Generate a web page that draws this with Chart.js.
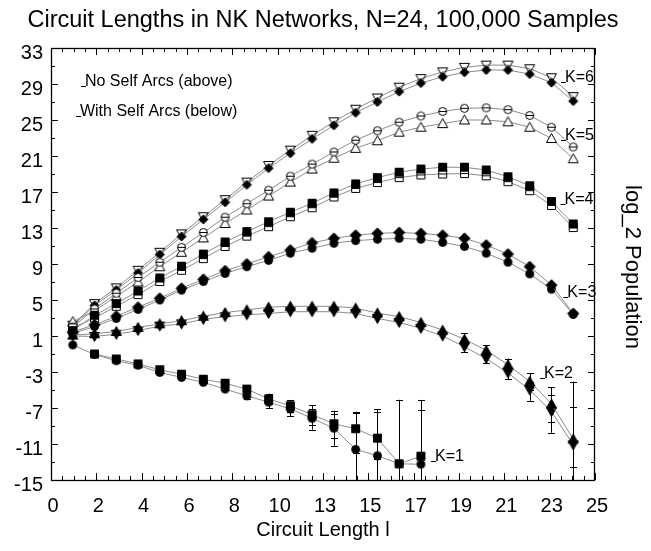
<!DOCTYPE html>
<html>
<head>
<meta charset="utf-8">
<script src="https://cdn.jsdelivr.net/npm/chart.js@4.4.1/dist/chart.umd.min.js"></script>
<style>
  html, body { margin: 0; padding: 0; background: #fff; }
  canvas { display: block; }
</style>
</head>
<body>
<canvas id="chart" width="651" height="551"></canvas>
<script>
// circuit length l
const lengths = [1, 2, 3, 4, 5, 6, 7, 8, 9, 10, 11, 12, 13, 14, 15, 16, 17, 18, 19, 20, 21, 22, 23, 24];

// log_2 population, "no self arcs" runs above, "with self arcs" below
const k6NoSelf   = [2.2, 4.6, 6.35, 8.3, 10.3, 12.35, 14.25, 16.15, 18.1, 19.95, 21.65, 23.3, 24.8, 26.2, 27.45, 28.65, 29.6, 30.35, 30.85, 31.1, 31.1, 30.7, 29.7, 27.6];
const k6WithSelf = [2.1, 4.4, 6.1, 8.0, 10.05, 12.05, 13.95, 15.85, 17.8, 19.65, 21.3, 22.9, 24.4, 25.8, 27.0, 28.15, 29.1, 29.8, 30.3, 30.55, 30.55, 30.1, 29.15, 27.1];
const k5NoSelf   = [2.0, 4.0, 5.75, 7.5, 9.2, 10.85, 12.5, 14.2, 15.7, 17.2, 18.75, 20.1, 21.45, 22.75, 23.8, 24.75, 25.45, 25.95, 26.3, 26.35, 26.15, 25.5, 24.2, 22.0];
const k5WithSelf = [2.6, 3.8, 5.4, 7.0, 8.7, 10.3, 11.9, 13.5, 15.0, 16.55, 18.1, 19.55, 20.75, 21.85, 22.7, 23.65, 24.2, 24.6, 25.0, 25.0, 24.8, 24.2, 22.95, 20.7];
const k4NoSelf   = [1.6, 3.3, 4.6, 6.0, 7.45, 8.75, 10.1, 11.45, 12.6, 13.7, 14.75, 15.75, 16.9, 17.9, 18.6, 19.2, 19.55, 19.75, 19.75, 19.45, 18.7, 17.7, 15.95, 13.45];
const k4WithSelf = [1.9, 3.0, 4.3, 5.6, 7.05, 8.3, 9.6, 10.95, 12.1, 13.15, 14.25, 15.25, 16.45, 17.4, 18.05, 18.6, 18.9, 19.0, 19.05, 18.8, 18.15, 17.15, 15.5, 13.05];
const k3NoSelf   = [1.45, 2.25, 3.2, 4.2, 5.2, 6.3, 7.3, 8.25, 9.0, 9.8, 10.55, 11.35, 11.85, 12.2, 12.4, 12.5, 12.4, 12.2, 11.85, 11.1, 10.1, 8.7, 6.65, 3.5];
const k3WithSelf = [1.3, 2.05, 2.95, 3.95, 5.0, 6.1, 7.05, 7.95, 8.7, 9.4, 10.2, 10.75, 11.3, 11.6, 11.75, 11.85, 11.75, 11.4, 10.95, 10.2, 9.2, 7.9, 6.2, 3.4];
const k2NoSelf   = [1.1, 1.25, 1.5, 1.95, 2.35, 2.7, 3.2, 3.6, 3.9, 4.2, 4.3, 4.3, 4.3, 4.1, 3.55, 3.15, 2.5, 1.65, 0.65, -0.6, -2.2, -4.05, -6.55, -10.45];
const k2WithSelf = [1.0, 0.95, 1.2, 1.6, 2.1, 2.35, 2.85, 3.15, 3.35, 3.5, 3.7, 3.7, 3.7, 3.5, 2.95, 2.5, 1.85, 1.0, -0.2, -1.5, -3.1, -5.0, -7.4, -11.1];
const k1NoSelf   = [null, -1.0, -1.55, -2.1, -2.75, -3.25, -3.8, -4.25, -4.9, -6.0, -6.75, -7.75, -8.75, -9.3, -10.35, -13.2, -12.35, null, null, null, null, null, null, null];
const k1WithSelf = [0.0, -1.05, -1.75, -2.25, -3.05, -3.6, -4.15, -4.9, -5.65, -6.35, -7.1, -8.15, -9.25, -11.6, -12.3, -13.2, -13.25, null, null, null, null, null, null, null];

// error bars: [l, upper, lower]; -Infinity = runs off the bottom
const k1NoSelfBars   = [[9, -4.6, -5.3], [10, -5.4, -6.6], [11, -6.1, -7.4], [12, -6.7, -8.9], [13, -7.3, -10.3], [14, -7.4, -12.0], [15, -7.15, -12.7], [16, -6.1, -Infinity], [17, -6.1, -Infinity]];
const k1WithSelfBars = [[9, -5.3, -6.0], [10, -5.8, -7.0], [11, -6.5, -7.9], [12, -7.1, -9.4], [13, -7.7, -11.2], [14, -7.6, -Infinity], [15, -7.4, -Infinity], [16, -6.1, -Infinity], [17, -7.2, -Infinity]];
const k2NoSelfBars   = [[19, 1.3, 0.1], [20, 0.0, -1.2], [21, -1.5, -2.9], [22, -3.15, -5.0], [23, -4.7, -8.5], [24, -4.07, -Infinity]];
const k2WithSelfBars = [[19, 0.5, -0.75], [20, -0.9, -2.0], [21, -2.4, -3.8], [22, -4.1, -6.2], [23, -5.5, -9.75], [24, -6.93, -13.6]];

const xTickLabels = ['0', '2', '4', '6', '8', '10', '13', '15', '17', '19', '21', '23', '25'];
const yTickLabels = ['-15', '-11', '-7', '-3', '1', '5', '9', '13', '17', '21', '25', '29', '33'];
const yTickValues = [-15, -11, -7, -3, 1, 5, 9, 13, 17, 21, 25, 29, 33];

const curveLabels = ['K=6', 'K=5', 'K=4', 'K=3', 'K=2', 'K=1'];
const curveLabelAt = [[23.62, 29.22], [23.62, 22.78], [23.6, 15.67], [23.73, 5.37], [22.66, -3.7], [17.65, -12.86]];
const keyLabels = ['No Self Arcs (above)', 'With Self Arcs (below)'];
const keyLabelAt = [[1.56, 28.81], [1.33, 25.44]];

const FONT = "'Liberation Sans', Arial, Helvetica, sans-serif";

// fill: '#000' solid, '#fff' open, null see-through
function marker(shape, fill, bar, half) {
  const s = 15, c = document.createElement('canvas');
  const h = half || 5.5;
  c.width = s; c.height = s;
  const g = c.getContext('2d');
  g.translate(s / 2, s / 2);
  g.lineWidth = 1;
  g.strokeStyle = '#000';
  g.beginPath();
  if (shape === 'circle') g.arc(0, 0, 4, 0, Math.PI * 2);
  else if (shape === 'square') g.rect(-4, -4, 8, 8);
  else if (shape === 'diamond') { g.moveTo(0, -h); g.lineTo(h, 0); g.lineTo(0, h); g.lineTo(-h, 0); g.closePath(); }
  else if (shape === 'up') { g.moveTo(0, -5); g.lineTo(5, 4); g.lineTo(-5, 4); g.closePath(); }
  else if (shape === 'down') { g.moveTo(0, 5); g.lineTo(5, -4); g.lineTo(-5, -4); g.closePath(); }
  if (fill) { g.fillStyle = fill; g.fill(); }
  g.stroke();
  if (bar) { g.beginPath(); g.moveTo(-4, 0); g.lineTo(4, 0); g.stroke(); }
  return c;
}

function series(values, style, bars) {
  return {
    data: lengths.map((l, i) => ({ x: l, y: values[i] })),
    borderColor: '#8c8c8c',
    borderWidth: 1,
    pointStyle: style,
    pointRadius: 5,
    tension: 0,
    errorBars: bars || []
  };
}

const errorBarPlugin = {
  id: 'errorBars',
  beforeDatasetsDraw(chart) {
    const { ctx, chartArea: a, scales: { x, y } } = chart;
    ctx.save();
    ctx.beginPath();
    ctx.rect(a.left, a.top, a.width, a.height);
    ctx.clip();
    ctx.strokeStyle = '#000';
    ctx.lineWidth = 1;
    ctx.beginPath();
    chart.data.datasets.forEach(ds => {
      ds.errorBars.forEach(([l, hi, lo]) => {
        const px = Math.round(x.getPixelForValue(l)) + 0.5;
        const top = y.getPixelForValue(hi);
        const bot = isFinite(lo) ? y.getPixelForValue(lo) : a.bottom + 2;
        ctx.moveTo(px, top); ctx.lineTo(px, bot);
        ctx.moveTo(px - 3.5, Math.round(top) + 0.5); ctx.lineTo(px + 3.5, Math.round(top) + 0.5);
        if (isFinite(lo)) { ctx.moveTo(px - 3.5, Math.round(bot) + 0.5); ctx.lineTo(px + 3.5, Math.round(bot) + 0.5); }
      });
    });
    ctx.stroke();
    ctx.restore();
  }
};

const framePlugin = {
  id: 'frame',
  afterDraw(chart) {
    const { ctx, chartArea: a, scales: { x, y } } = chart;
    ctx.save();
    ctx.strokeStyle = '#000';
    ctx.lineWidth = 1;
    ctx.beginPath();
    for (let i = 0; i <= 48; i++) {
      const px = Math.round(x.getPixelForValue(i * 25 / 48)) + 0.5;
      const len = i % 4 === 0 ? 7 : 4;
      ctx.moveTo(px, a.bottom); ctx.lineTo(px, a.bottom - len);
      ctx.moveTo(px, a.top); ctx.lineTo(px, a.top + len);
    }
    for (let v = -15; v <= 33; v += 2) {
      const py = Math.round(y.getPixelForValue(v)) + 0.5;
      const len = (v + 15) % 4 === 0 ? 7 : 4;
      ctx.moveTo(a.left, py); ctx.lineTo(a.left + len, py);
      ctx.moveTo(a.right, py); ctx.lineTo(a.right - len, py);
    }
    ctx.stroke();
    ctx.lineWidth = 1.3;
    ctx.strokeRect(Math.round(a.left) + 0.5, Math.round(a.top) + 0.5, Math.round(a.width) - 1, Math.round(a.height));

    // texts
    ctx.fillStyle = '#000';
    ctx.textBaseline = 'alphabetic';
    ctx.textAlign = 'center';
    ctx.font = '23.5px ' + FONT;
    ctx.fillText('Circuit Lengths in NK Networks, N=24, 100,000 Samples', 323, 27);
    ctx.font = '20px ' + FONT;
    ctx.fillText('Circuit Length l', 323, 536);
    ctx.save();
    ctx.translate(632, 267);
    ctx.rotate(Math.PI / 2);
    ctx.textBaseline = 'middle';
    ctx.font = '22px ' + FONT;
    ctx.fillText('log_2 Population', 0, 0);
    ctx.restore();

    ctx.font = '16px ' + FONT;
    ctx.textAlign = 'left';
    ctx.lineWidth = 1;
    const note = (text, [lx, ly]) => {
      const px = x.getPixelForValue(lx), py = y.getPixelForValue(ly);
      ctx.fillText(text, px, py);
      ctx.beginPath();
      ctx.moveTo(px - 4, Math.round(py) + 0.5);
      ctx.lineTo(px + 1, Math.round(py) + 0.5);
      ctx.stroke();
    };
    keyLabels.forEach((t, i) => note(t, keyLabelAt[i]));
    curveLabels.forEach((t, i) => note(t, curveLabelAt[i]));
    ctx.restore();
  }
};

new Chart(document.getElementById('chart'), {
  type: 'line',
  data: {
    datasets: [
      series(k1NoSelf, marker('square', '#000'), k1NoSelfBars),
      series(k1WithSelf, marker('circle', '#000'), k1WithSelfBars),
      series(k2NoSelf, marker('up', '#000'), k2NoSelfBars),
      series(k2WithSelf, marker('down', '#000'), k2WithSelfBars),
      series(k3NoSelf, marker('diamond', '#000')),
      series(k3WithSelf, marker('circle', '#000')),
      series(k4NoSelf, marker('square', '#000')),
      series(k4WithSelf, marker('square', '#fff', true)),
      series(k5NoSelf, marker('circle', '#fff', true)),
      series(k5WithSelf, marker('up', '#fff')),
      series(k6WithSelf, marker('diamond', '#000', false, 4.5)),
      series(k6NoSelf, marker('down', null))
    ]
  },
  options: {
    responsive: false,
    animation: false,
    layout: { padding: { left: 0, top: 48, right: 56, bottom: 0 } },
    plugins: { legend: { display: false }, tooltip: { enabled: false } },
    scales: {
      x: {
        type: 'linear',
        min: 0,
        max: 25,
        grid: { display: false, drawTicks: false },
        border: { display: false },
        afterFit: s => { s.height = 71; },
        afterBuildTicks: s => { s.ticks = xTickLabels.map((t, i) => ({ value: i * 25 / 12 })); },
        ticks: {
          padding: 14,
          labelOffset: 2,
          maxRotation: 0,
          autoSkip: false,
          color: '#000',
          font: { family: FONT, size: 20 },
          callback: (v, i) => xTickLabels[i]
        }
      },
      y: {
        type: 'linear',
        min: -15,
        max: 33,
        grid: { display: false, drawTicks: false },
        border: { display: false },
        afterFit: s => { s.width = 51; },
        afterBuildTicks: s => { s.ticks = yTickValues.map(v => ({ value: v })); },
        ticks: {
          padding: 8,
          labelOffset: 5,
          autoSkip: false,
          color: '#000',
          font: { family: FONT, size: 20 },
          callback: (v, i) => yTickLabels[i]
        }
      }
    }
  },
  plugins: [errorBarPlugin, framePlugin]
});
</script>
</body>
</html>
